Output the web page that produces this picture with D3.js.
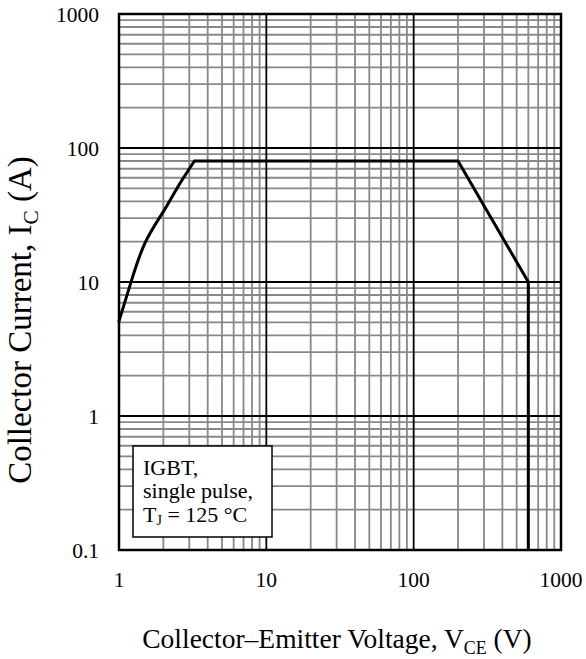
<!DOCTYPE html>
<html><head><meta charset="utf-8">
<script src="https://cdn.jsdelivr.net/npm/d3@7/dist/d3.min.js"></script>
<style>body{margin:0;background:#fff}svg{display:block}text{font-family:"Liberation Serif","Times New Roman",serif;fill:#000}</style>
</head><body>
<svg id="c" width="586" height="659"></svg>
<script>
const xTicks = [1, 10, 100, 1000];
const yTicks = [0.1, 1, 10, 100, 1000];
const xTickLabels = ["1", "10", "100", "1000"];
const yTickLabels = ["0.1", "1", "10", "100", "1000"];
// rising (smooth) part of the SOA boundary
const riseV = [1, 1.2, 1.5, 2, 2.5, 3.25];
const riseI = [5.1, 9.8, 19.5, 33.5, 51, 80];
// straight part of the SOA boundary
const flatV = [3.25, 200, 600, 600];
const flatI = [80, 80, 10, 0.1];
const legendLines = ["IGBT,", "single pulse,", "T", "J", " = 125 °C"];

const svg = d3.select("#c");
const L = 119, R = 561, T = 14, B = 550;
const x = d3.scaleLog().domain([1, 1000]).range([L, R]);
const y = d3.scaleLog().domain([0.1, 1000]).range([B, T]);

// minor grid
const minorX = [], minorY = [];
for (let d = 1; d < 1000; d *= 10) for (let k = 2; k <= 9; k++) minorX.push(d * k);
for (let d = 0.1; d < 999; d *= 10) for (let k = 2; k <= 9; k++) minorY.push(d * k);
const g = svg.append("g");
g.selectAll(".mx").data(minorX).join("line")
  .attr("x1", d => x(d)).attr("x2", d => x(d)).attr("y1", T).attr("y2", B)
  .attr("stroke", "#888").attr("stroke-width", 1.8);
g.selectAll(".my").data(minorY).join("line")
  .attr("y1", d => y(d)).attr("y2", d => y(d)).attr("x1", L).attr("x2", R)
  .attr("stroke", "#888").attr("stroke-width", 1.8);
// major grid
g.selectAll(".Mx").data(xTicks).join("line")
  .attr("x1", d => x(d)).attr("x2", d => x(d)).attr("y1", T).attr("y2", B)
  .attr("stroke", "#000").attr("stroke-width", 1.8);
g.selectAll(".My").data(yTicks).join("line")
  .attr("y1", d => y(d)).attr("y2", d => y(d)).attr("x1", L).attr("x2", R)
  .attr("stroke", "#000").attr("stroke-width", 1.8);
// frame
svg.append("rect").attr("x", L).attr("y", T).attr("width", R - L).attr("height", B - T)
  .attr("fill", "none").attr("stroke", "#000").attr("stroke-width", 2.5);

// curve
const risePts = riseV.map((v, i) => [v, riseI[i]]);
const flatPts = flatV.map((v, i) => [v, flatI[i]]);
svg.append("path").datum(risePts)
  .attr("d", d3.line().x(d => x(d[0])).y(d => y(d[1])).curve(d3.curveNatural))
  .attr("fill", "none").attr("stroke", "#000").attr("stroke-width", 3).attr("stroke-linecap", "round");
svg.append("path").datum(flatPts)
  .attr("d", d3.line().x(d => x(d[0])).y(d => y(d[1])))
  .attr("fill", "none").attr("stroke", "#000").attr("stroke-width", 3).attr("stroke-linejoin", "miter");

// tick labels
svg.selectAll(".xl").data(xTicks).join("text")
  .attr("x", d => x(d)).attr("y", 587).attr("text-anchor", "middle")
  .attr("font-size", 21.5).text((d, i) => xTickLabels[i]);
svg.selectAll(".yl").data(yTicks).join("text")
  .attr("x", 99).attr("y", d => y(d)).attr("dy", "0.35em").attr("text-anchor", "end")
  .attr("font-size", 21.5).text((d, i) => yTickLabels[i]);

// legend box
svg.append("rect").attr("x", 133).attr("y", 446).attr("width", 139).attr("height", 91)
  .attr("fill", "#fff").attr("stroke", "#000").attr("stroke-width", 1.5);
const lt = svg.append("g").attr("font-size", 22);
lt.append("text").attr("x", 143).attr("y", 475).text(legendLines[0]);
lt.append("text").attr("x", 143).attr("y", 498).text(legendLines[1]);
const t3 = lt.append("text").attr("x", 143).attr("y", 522);
t3.append("tspan").text(legendLines[2]);
t3.append("tspan").attr("font-size", 14).attr("dy", 3).text(legendLines[3]);
t3.append("tspan").attr("dy", -3).text(legendLines[4]);

// axis titles
function title(sel, main, sub, tail, fs) {
  sel.attr("font-size", fs);
  sel.append("tspan").text(main);
  sel.append("tspan").attr("font-size", fs * 0.65).attr("dy", fs * 0.2).text(sub);
  sel.append("tspan").attr("dy", -fs * 0.2).text(tail);
}
const xt = svg.append("text").attr("x", 337).attr("y", 648).attr("text-anchor", "middle");
title(xt, "Collector–Emitter Voltage, V", "CE", " (V)", 27.5);

const yt = svg.append("text").attr("transform", "translate(31,320) rotate(-90)").attr("text-anchor", "middle");
title(yt, "Collector Current, I", "C", " (A)", 33);
</script>
</body></html>
